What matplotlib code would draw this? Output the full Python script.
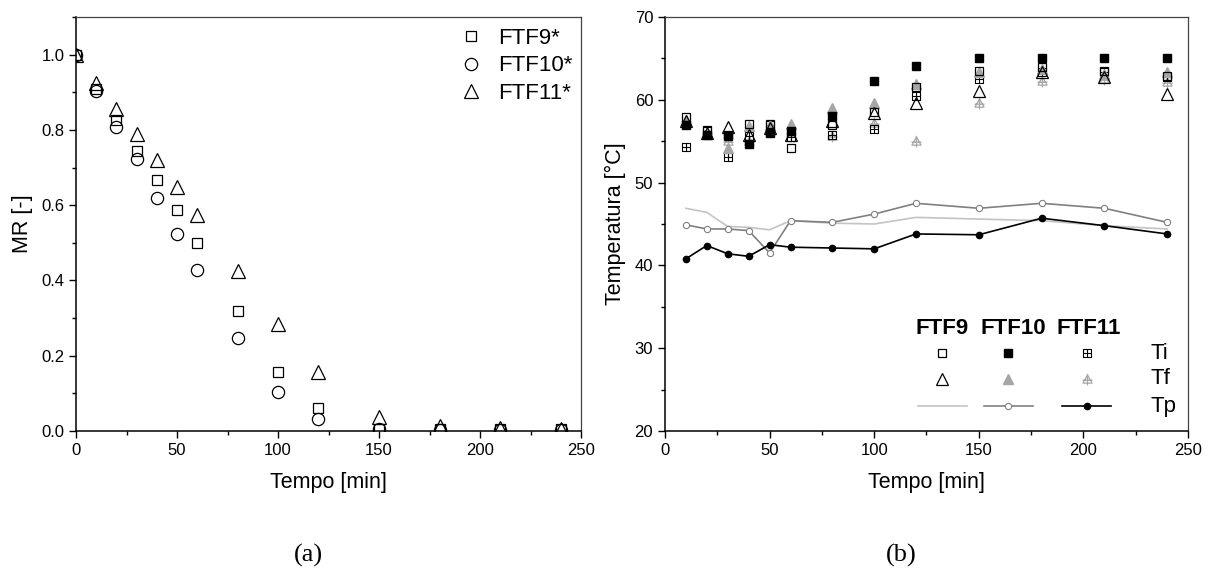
import matplotlib
matplotlib.use("Agg")
import matplotlib.pyplot as plt
import numpy as np
from matplotlib.path import Path
from matplotlib.ticker import MultipleLocator, FormatStrFormatter

plt.rcParams['font.family'] = ['Liberation Sans', 'DejaVu Sans']

# ---- panel (a): moisture ratio ----
t_mr = [0, 10, 20, 30, 40, 50, 60, 80, 100, 120, 150, 180, 210, 240]
mr_ftf9 = [1.0, 0.908, 0.826, 0.744, 0.668, 0.587, 0.500, 0.318, 0.156, 0.060, 0.005, 0.005, 0.005, 0.005]
mr_ftf10 = [1.0, 0.903, 0.807, 0.723, 0.619, 0.524, 0.429, 0.246, 0.103, 0.031, 0.005, 0.003, 0.003, 0.003]
mr_ftf11 = [1.0, 0.925, 0.856, 0.790, 0.721, 0.648, 0.575, 0.424, 0.285, 0.156, 0.038, 0.012, 0.008, 0.006]

# ---- panel (b): temperatures ----
t_temp = [10, 20, 30, 40, 50, 60, 80, 100, 120, 150, 180, 210, 240]
ti_ftf9 = [57.9, 56.4, 55.7, 57.1, 57.1, 54.2, 56.9, 58.5, 61.6, 63.5, 64.0, 63.5, 62.9]
ti_ftf10 = [56.9, 55.7, 55.6, 54.7, 56.0, 56.2, 58.0, 62.3, 64.1, 65.1, 65.1, 65.1, 65.1]
ti_ftf11 = [54.3, 56.2, 53.1, 55.6, 57.0, 55.5, 55.7, 56.5, 60.5, 62.5, 63.3, 63.4, 62.7]
tf_ftf9 = [57.4, 56.0, 56.7, 55.8, 56.6, 55.8, 57.4, 58.4, 59.6, 61.1, 63.3, 62.7, 60.7]
tf_ftf10 = [57.6, 56.0, 54.2, 56.8, 57.0, 57.1, 59.0, 59.6, 61.9, 63.3, 63.7, 63.1, 63.4]
tf_ftf11 = [57.4, 56.0, 55.0, 55.0, 56.2, 56.0, 55.6, 57.2, 55.0, 59.6, 62.3, 62.5, 62.1]
tp_ftf9 = [46.9, 46.4, 44.7, 44.6, 44.3, 45.4, 45.1, 45.0, 45.8, 45.6, 45.4, 44.8, 44.4]
tp_ftf10 = [44.9, 44.4, 44.4, 44.2, 41.5, 45.4, 45.2, 46.2, 47.5, 46.9, 47.5, 46.9, 45.2]
tp_ftf11 = [40.8, 42.4, 41.4, 41.1, 42.5, 42.2, 42.1, 42.0, 43.8, 43.7, 45.7, 44.8, 43.8]

samples = ['FTF9', 'FTF10', 'FTF11']

# custom markers: square with cross, triangle with cross
M, L, C = Path.MOVETO, Path.LINETO, Path.CLOSEPOLY
sq_plus = Path([(-1, -1), (1, -1), (1, 1), (-1, 1), (-1, -1),
                (0, -1), (0, 1), (-1, 0), (1, 0)],
               [M, L, L, L, C, M, L, M, L])
tri_plus = Path([(-1, -0.8), (1, -0.8), (0, 1), (-1, -0.8),
                 (0, 1.25), (0, -1.3), (-1.1, -0.15), (1.1, -0.15)],
                [M, L, L, C, M, L, M, L])

# marker styles shared by data and the table legend of panel (b)
st_ti = [dict(marker='s', ms=6.3, mfc='none', mec='black', mew=0.9),
         dict(marker='s', ms=6.3, mfc='black', mec='black'),
         dict(marker=sq_plus, ms=5.8, mfc='none', mec='black', mew=0.8)]
st_tf = [dict(marker='^', ms=8, mfc='none', mec='black', mew=0.9),
         dict(marker='^', ms=7.5, mfc='#a6a6a6', mec='#a6a6a6'),
         dict(marker=tri_plus, ms=8.5, mfc='none', mec='#a8a8a8', mew=0.9)]
st_tp = [dict(color='#c4c4c4', lw=1.2),
         dict(color='#808080', lw=1.2, marker='o', ms=4.5, mfc='white', mec='#808080', mew=0.8),
         dict(color='black', lw=1.2, marker='o', ms=4.5, mfc='black', mec='black')]

fig = plt.figure(figsize=(12.15, 5.71), dpi=100)
ax1 = fig.add_axes([0.0626, 0.2452, 0.4156, 0.725])
ax2 = fig.add_axes([0.5473, 0.2452, 0.4305, 0.725])

ax1.plot(t_mr, mr_ftf9, ls='none', marker='s', ms=7.5, mfc='none', mec='black', mew=0.9, label='FTF9*')
ax1.plot(t_mr, mr_ftf10, ls='none', marker='o', ms=8.8, mfc='none', mec='black', mew=0.9, label='FTF10*')
ax1.plot(t_mr, mr_ftf11, ls='none', marker='^', ms=9.6, mfc='none', mec='black', mew=0.9, label='FTF11*')
ax1.set_xlim(0, 250)
ax1.set_ylim(0, 1.1)
ax1.set_xlabel('Tempo [min]', fontsize=15.5, labelpad=10)
ax1.set_ylabel('MR [-]', fontsize=15.5, labelpad=6)
ax1.xaxis.set_major_locator(MultipleLocator(50))
ax1.xaxis.set_minor_locator(MultipleLocator(25))
ax1.yaxis.set_major_locator(MultipleLocator(0.2))
ax1.yaxis.set_minor_locator(MultipleLocator(0.1))
ax1.yaxis.set_major_formatter(FormatStrFormatter('%.1f'))
ax1.legend(loc='upper right', bbox_to_anchor=(1.0, 0.995), borderaxespad=0, frameon=False,
           fontsize=16, handlelength=1.0, handletextpad=0.7, labelspacing=0.29)

# panel (b)
for y, st in zip([tp_ftf9, tp_ftf10, tp_ftf11], st_tp):
    ax2.plot(t_temp, y, **st)
ax2.plot(t_temp, tf_ftf11, ls='none', **st_tf[2])
ax2.plot(t_temp, ti_ftf11, ls='none', **st_ti[2])
ax2.plot(t_temp, tf_ftf10, ls='none', **st_tf[1])
ax2.plot(t_temp, tf_ftf9, ls='none', **st_tf[0])
ax2.plot(t_temp, ti_ftf9, ls='none', **st_ti[0])
ax2.plot(t_temp, ti_ftf10, ls='none', **st_ti[1])
ax2.set_xlim(0, 250)
ax2.set_ylim(20, 70)
ax2.set_xlabel('Tempo [min]', fontsize=15.5, labelpad=10)
ax2.set_ylabel('Temperatura [°C]', fontsize=15.5, labelpad=6)
ax2.xaxis.set_major_locator(MultipleLocator(50))
ax2.xaxis.set_minor_locator(MultipleLocator(25))
ax2.yaxis.set_major_locator(MultipleLocator(10))
ax2.yaxis.set_minor_locator(MultipleLocator(5))

# table-style legend for panel (b)
tr = ax2.transAxes
col_x = [0.53, 0.656, 0.806]
head_x = [0.53, 0.666, 0.811]
row_y = [0.188, 0.126, 0.06]
for x, name in zip(head_x, samples):
    ax2.text(x, 0.248, name, transform=tr, ha='center', va='center', fontsize=16, fontweight='bold')
for y, lab in zip(row_y, ['Ti', 'Tf', 'Tp']):
    ax2.text(0.928, y, lab, transform=tr, ha='left', va='center', fontsize=16)
for i in range(3):
    ax2.plot([col_x[i]], [row_y[0]], transform=tr, ls='none', **st_ti[i])
    ax2.plot([col_x[i]], [row_y[1]], transform=tr, ls='none', **st_tf[i])
    line_st = {k: v for k, v in st_tp[i].items() if k not in ('marker', 'ms', 'mfc', 'mec', 'mew')}
    ax2.plot([col_x[i] - 0.047, col_x[i] + 0.047], [row_y[2]] * 2, transform=tr, **line_st)
    if 'marker' in st_tp[i]:
        ax2.plot([col_x[i]], [row_y[2]], transform=tr, ls='none', **{k: v for k, v in st_tp[i].items() if k not in ('color', 'lw')})

for ax in (ax1, ax2):
    ax.tick_params(which='both', direction='out', labelsize=12, top=False, right=False)
    ax.tick_params(which='major', length=5, width=1)
    ax.tick_params(which='minor', length=3, width=1)
    ax.spines['left'].set_linewidth(1.1)
    ax.spines['bottom'].set_linewidth(1.1)
    ax.spines['top'].set_color('#444444')
    ax.spines['right'].set_color('#444444')
    ax.spines['top'].set_linewidth(0.9)
    ax.spines['right'].set_linewidth(0.9)

fig.text(0.254, 0.028, '(a)', ha='center', va='center', fontsize=19, family=['Liberation Serif'])
fig.text(0.742, 0.028, '(b)', ha='center', va='center', fontsize=19, family=['Liberation Serif'])

fig.savefig('out.png', dpi=100)
